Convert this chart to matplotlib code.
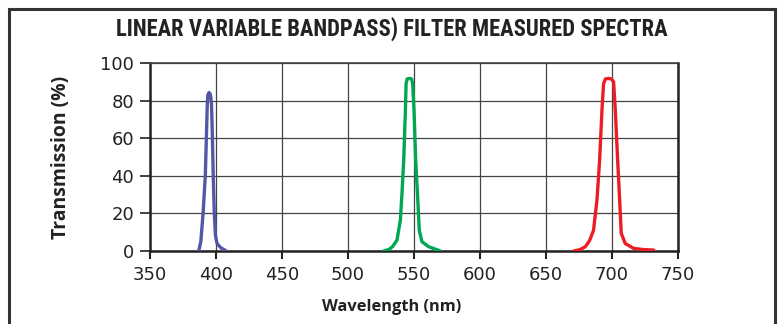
import matplotlib
matplotlib.use("Agg")
import matplotlib.pyplot as plt
from matplotlib.patches import Rectangle
from matplotlib import font_manager

title = "LINEAR VARIABLE BANDPASS) FILTER MEASURED SPECTRA"
xlabel = "Wavelength (nm)"
ylabel = "Transmission (%)"
xticks = [350, 400, 450, 500, 550, 600, 650, 700, 750]
yticks = [0, 20, 40, 60, 80, 100]

blue_x = [386.9, 388.5, 390.2, 391.9, 392.7, 393.4, 393.8, 394.7, 395.6, 396.0, 396.6, 397.3, 397.9, 398.7, 399.6, 400.8, 403.5, 407.8]
blue_y = [0, 5, 20, 40, 60, 78, 83, 84.3, 83.5, 82, 78, 60, 40, 20, 8, 4, 1.8, 0]

green_x = [527, 531, 534, 537.1, 539.7, 540.9, 542.2, 543.5, 544.0, 544.8, 546.5, 548.2, 549.0, 550.0, 551.3, 552.6, 554.0, 556.0, 561.0, 570.0]
green_y = [0, 0.8, 2.5, 5.8, 16.5, 30.8, 48, 75, 89, 91.5, 91.8, 91.5, 89, 75, 48, 31, 11, 5, 2.3, 0]

red_x = [670.9, 676, 679.8, 683.0, 686.0, 688.6, 690.6, 692.4, 693.6, 695.0, 697.4, 699.5, 701.2, 702.5, 704.3, 705.8, 707.0, 710.0, 716.4, 723.0, 731.5]
red_y = [0, 0.8, 2.3, 5.5, 11, 27, 48, 75, 89, 91.5, 91.8, 91.5, 90, 75, 48, 27, 9.4, 4, 1.4, 0.8, 0.5]

series = [(blue_x, blue_y, "#5457a6"), (green_x, green_y, "#00a651"), (red_x, red_y, "#ed1c24")]

available = {f.name for f in font_manager.fontManager.ttflist}
def pick(names):
    for n in names:
        if n in available:
            return n
    return "DejaVu Sans"

title_family = pick(["Roboto Condensed", "Liberation Sans Narrow", "Open Sans Condensed", "Roboto", "Noto Sans"])
label_family = pick(["Open Sans", "Lato", "Noto Sans"])
tick_family = pick(["DejaVu Sans", "Liberation Sans"])

fig = plt.figure(figsize=(7.78, 3.24), dpi=100)
W, H = 778, 324
ax = fig.add_axes([150 / W, 1 - 251 / H, (678 - 150) / W, (251 - 63) / H])

for xs, ys, c in series:
    ax.plot(xs, ys, color=c, lw=2.4, solid_joinstyle="round", solid_capstyle="round", zorder=3)

ax.set_xlim(350, 750)
ax.set_ylim(0, 100)
ax.set_xticks(xticks)
ax.set_yticks(yticks)
tick_font = dict(family=[tick_family], size=13)
ax.set_xticklabels([str(t) for t in xticks], **tick_font)
ax.set_yticklabels([str(t) for t in yticks], **tick_font)
ax.tick_params(axis="x", direction="out", length=6, width=1.5, color="#222", pad=4.5, labelcolor="#222")
ax.tick_params(axis="y", direction="out", length=7.5, width=1.2, color="#222", pad=4, labelcolor="#222")
ax.grid(True, color="#444", lw=0.9, zorder=1)
ax.set_axisbelow(True)
for s in ["left", "bottom", "right"]:
    ax.spines[s].set_linewidth(1.8)
    ax.spines[s].set_color("#222")
ax.spines["top"].set_linewidth(1.2)
ax.spines["top"].set_color("#444")

t_title = fig.text(392 / W, 1 - 29 / H, title, ha="center", va="center",
                   family=[title_family, "DejaVu Sans"], weight="bold", size=14, color="#222")
t_x = fig.text(392 / W, 1 - 307 / H, xlabel, ha="center", va="center",
               family=[label_family, "DejaVu Sans"], weight="bold", size=11, color="#222")
t_y = fig.text(61 / W, 1 - 157 / H, ylabel, ha="center", va="center", rotation=90,
               family=[label_family, "DejaVu Sans"], weight="bold", size=11, color="#222")

fig.canvas.draw()
r = fig.canvas.get_renderer()
def fit(t, target, horizontal=True):
    bb = t.get_window_extent(r)
    cur = bb.width if horizontal else bb.height
    t.set_fontsize(t.get_fontsize() * target / cur)

fit(t_title, 554)
fit(t_x, 140)
fit(t_y, 164, horizontal=False)

fig.patches.append(Rectangle((9 / W, -0.1), (775 - 9) / W, (1 - 9 / H) + 0.1,
                             transform=fig.transFigure, fill=False, lw=2.2, edgecolor="#333"))

fig.savefig("out.png", dpi=100, facecolor="white")
